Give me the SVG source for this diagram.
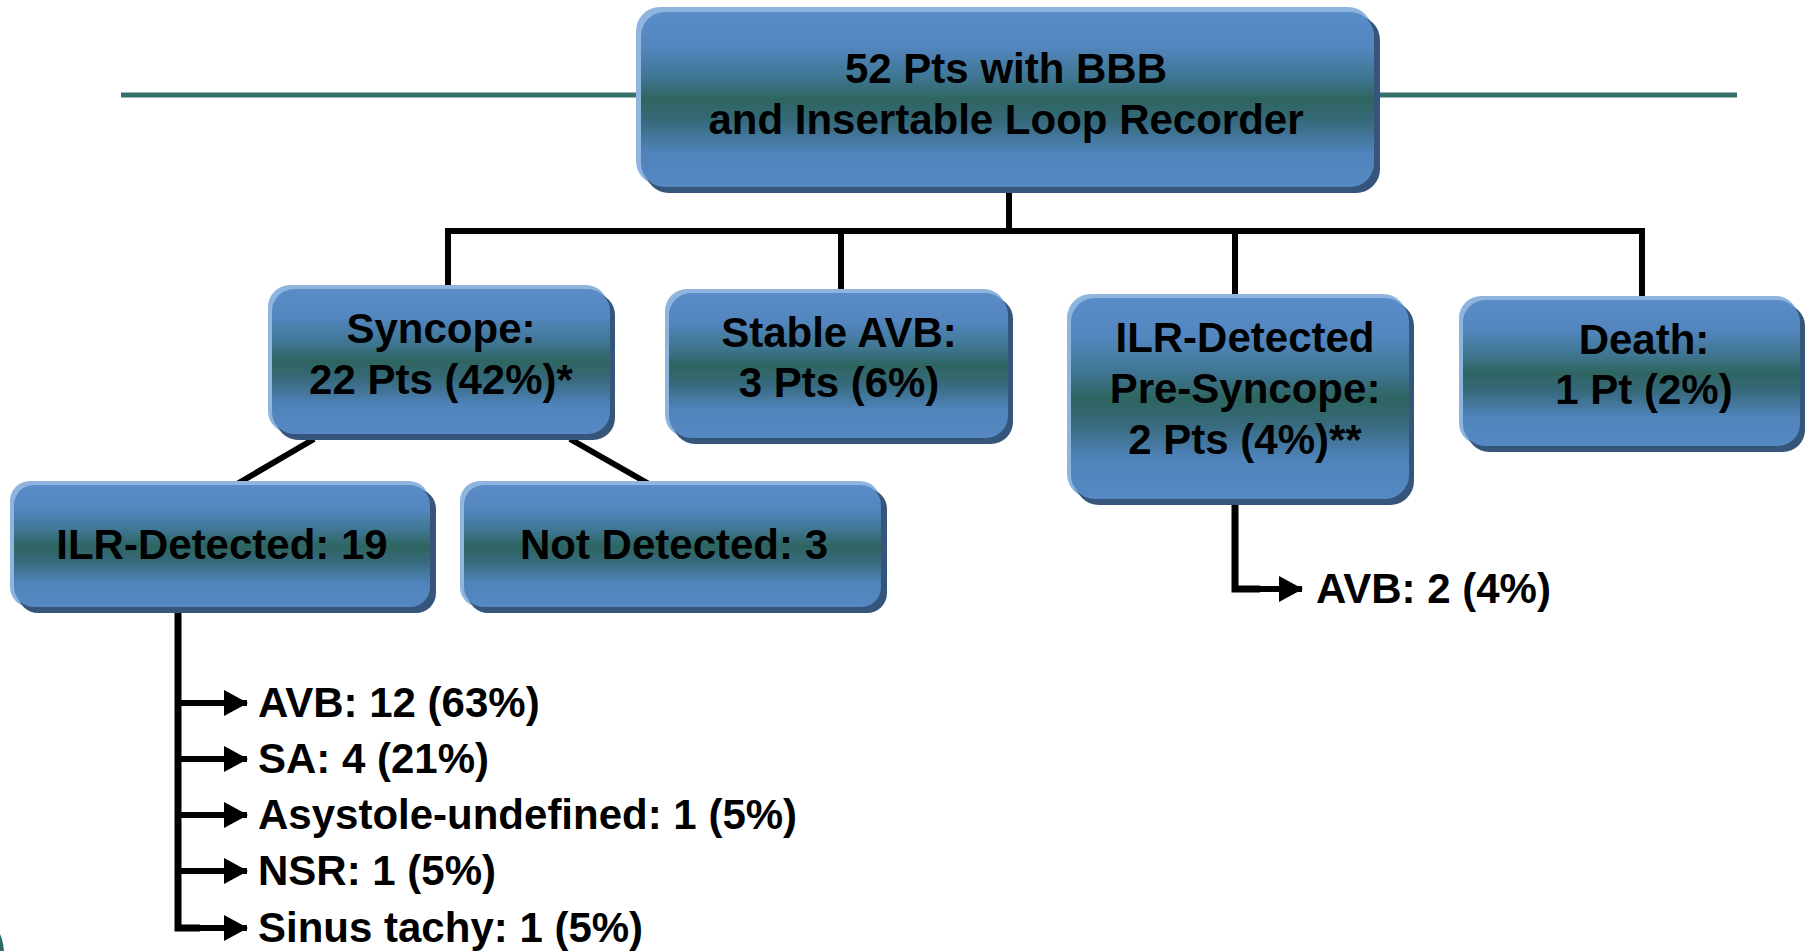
<svg xmlns="http://www.w3.org/2000/svg" width="1812" height="951" viewBox="0 0 1812 951">
<defs>
<linearGradient id="g" x1="0" y1="0" x2="0" y2="1">
<stop offset="0" stop-color="#5a8dc8"/>
<stop offset="0.2" stop-color="#5386be"/>
<stop offset="0.38" stop-color="#3e7590"/>
<stop offset="0.5" stop-color="#2e6560"/>
<stop offset="0.62" stop-color="#36697a"/>
<stop offset="0.8" stop-color="#4f83ba"/>
<stop offset="1" stop-color="#5689c3"/>
</linearGradient>
<marker id="ah" viewBox="0 0 24 26" refX="23" refY="13" markerWidth="24" markerHeight="26" orient="auto" markerUnits="userSpaceOnUse">
<path d="M0,0 L24,13 L0,26 Z" fill="#000"/>
</marker>
<style>
.hl{fill:#8fb4dd}
.sh{fill:#36557a}
.bx{fill:url(#g)}
.t{font-family:"Liberation Sans",Arial,sans-serif;font-weight:bold;font-size:42px;fill:#000}
.c{text-anchor:middle}
.ln{stroke:#000;stroke-width:6;fill:none}
.tr{stroke:#000;stroke-width:7;fill:none}
.ar{stroke:#000;stroke-width:6;fill:none;marker-end:url(#ah)}
</style>
</defs>
<rect width="1812" height="951" fill="#fff"/>
<line x1="121" y1="95" x2="1737" y2="95" stroke="#33706c" stroke-width="5"/>
<path d="M0,951 L0,934 Q3,940 4,951 Z" fill="#2f6a66"/>

<g id="connectors">
<polyline class="ln" points="1009,192 1009,231"/>
<polyline class="ln" points="448,289 448,231 1642,231 1642,300"/>
<line class="ln" x1="841" y1="231" x2="841" y2="293"/>
<line class="ln" x1="1235" y1="231" x2="1235" y2="298"/>
<line class="ln" x1="314" y1="439" x2="237" y2="484"/>
<line class="ln" x1="570" y1="439" x2="649" y2="484"/>
<polyline class="tr" points="1235,504 1235,589 1260,589"/>
<line class="ar" x1="1232" y1="589" x2="1302" y2="589"/>
<polyline class="tr" points="178,612 178,928 200,928"/>
<line class="ar" x1="176" y1="703" x2="247" y2="703"/>
<line class="ar" x1="176" y1="759" x2="247" y2="759"/>
<line class="ar" x1="176" y1="815" x2="247" y2="815"/>
<line class="ar" x1="176" y1="871" x2="247" y2="871"/>
<line class="ar" x1="176" y1="928" x2="247" y2="928"/>
</g>

<g id="top">
<rect class="hl" x="636" y="7" width="736" height="178" rx="24"/>
<rect class="sh" x="645" y="16" width="735" height="177" rx="24"/>
<rect class="bx" x="641" y="12" width="733" height="175" rx="24"/>
<text class="t c" x="1006" y="83">52 Pts with BBB</text>
<text class="t c" x="1006" y="134">and Insertable Loop Recorder</text>
</g>

<g id="syncope">
<rect class="hl" x="268" y="285" width="340" height="148" rx="22"/>
<rect class="sh" x="276" y="293" width="339" height="147" rx="22"/>
<rect class="bx" x="272" y="289" width="338" height="145" rx="22"/>
<text class="t c" x="441" y="343">Syncope:</text>
<text class="t c" x="441" y="394">22 Pts (42%)*</text>
</g>

<g id="stable">
<rect class="hl" x="665" y="289" width="341" height="148" rx="22"/>
<rect class="sh" x="673" y="297" width="340" height="147" rx="22"/>
<rect class="bx" x="669" y="293" width="339" height="145" rx="22"/>
<text class="t c" x="839" y="347">Stable AVB:</text>
<text class="t c" x="839" y="397">3 Pts (6%)</text>
</g>

<g id="presyncope">
<rect class="hl" x="1067" y="294" width="340" height="204" rx="24"/>
<rect class="sh" x="1075" y="302" width="339" height="203" rx="24"/>
<rect class="bx" x="1071" y="298" width="338" height="201" rx="24"/>
<text class="t c" x="1245" y="352">ILR-Detected</text>
<text class="t c" x="1245" y="403">Pre-Syncope:</text>
<text class="t c" x="1245" y="454">2 Pts (4%)**</text>
</g>

<g id="death">
<rect class="hl" x="1459" y="296" width="339" height="149" rx="22"/>
<rect class="sh" x="1467" y="304" width="338" height="148" rx="22"/>
<rect class="bx" x="1463" y="300" width="337" height="146" rx="22"/>
<text class="t c" x="1644" y="354">Death:</text>
<text class="t c" x="1644" y="404">1 Pt (2%)</text>
</g>

<g id="ilrdetected">
<rect class="hl" x="10" y="481" width="419" height="126" rx="20"/>
<rect class="sh" x="18" y="489" width="418" height="124" rx="20"/>
<rect class="bx" x="14" y="485" width="416" height="122" rx="20"/>
<text class="t c" x="222" y="559">ILR-Detected: 19</text>
</g>

<g id="notdetected">
<rect class="hl" x="460" y="481" width="420" height="126" rx="20"/>
<rect class="sh" x="468" y="489" width="419" height="124" rx="20"/>
<rect class="bx" x="464" y="485" width="417" height="122" rx="20"/>
<text class="t c" x="674" y="559">Not Detected: 3</text>
</g>

<g id="outcomes">
<text class="t" x="258" y="717">AVB: 12 (63%)</text>
<text class="t" x="258" y="773">SA: 4 (21%)</text>
<text class="t" x="258" y="829">Asystole-undefined: 1 (5%)</text>
<text class="t" x="258" y="885">NSR: 1 (5%)</text>
<text class="t" x="258" y="942">Sinus tachy: 1 (5%)</text>
</g>

<g id="presyncope-outcome">
<text class="t" x="1316" y="603">AVB: 2 (4%)</text>
</g>
</svg>
